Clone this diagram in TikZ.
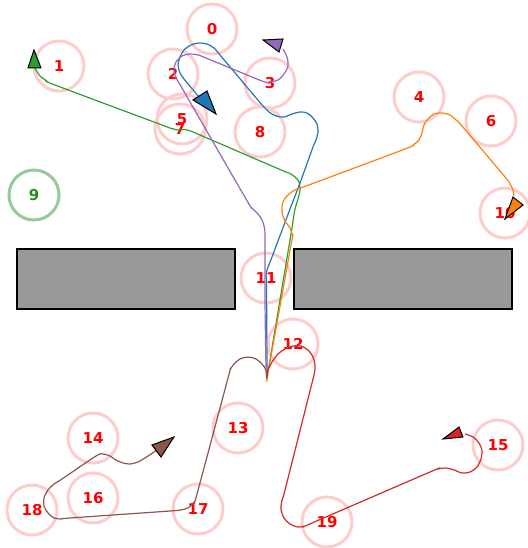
\documentclass[tikz,border=0pt]{standalone}
\usepackage{fontspec}
\setmainfont{DejaVu Sans}
\definecolor{ringpink}{RGB}{255,204,204}
\definecolor{ringgreen}{RGB}{150,202,150}
\definecolor{labgreen}{RGB}{34,139,34}
\definecolor{tabblue}{HTML}{1F77B4}
\definecolor{taborange}{HTML}{FF7F0E}
\definecolor{tabgreen}{HTML}{2CA02C}
\definecolor{tabred}{HTML}{D62728}
\definecolor{tabpurple}{HTML}{9467BD}
\definecolor{tabbrown}{HTML}{8C564B}
\definecolor{obst}{RGB}{153,153,153}
\tikzset{
  ring/.style={circle, draw=ringpink, line width=3pt, minimum size=50pt, inner sep=0pt,
    text=red, font=\fontsize{15}{15}\selectfont\bfseries},
  greenring/.style={ring, draw=ringgreen, text=labgreen},
  obstacle/.style={fill=obst, draw=black, line width=1.3pt},
  trail/.style={line width=1.2pt, line join=round},
  headtri/.style={draw=black, line width=1pt, line join=miter},
}
\begin{document}
\begin{tikzpicture}[x=1pt,y=-1pt]
\useasboundingbox (0,0) rectangle (527,548);
% goal circles
\node[ring] (c0) at (212,29) {0};
\node[ring] (c1) at (59,66) {1};
\node[ring] (c2) at (173,74) {2};
\node[ring] (c3) at (270,83) {3};
\node[ring] (c4) at (419,97) {4};
\node[ring] (c6) at (491,121) {6};
\node[ring] (c8) at (260,132) {8};
\node[ring] (c5) at (182,119) {5};
\node[ring] (c7) at (180,129) {7};
\node[greenring] (c9) at (34,195) {9};
\node[ring] (c10) at (505,213) {10};
\node[ring] (c11) at (266,278) {11};
\node[ring] (c12) at (293,344) {12};
\node[ring] (c13) at (238,428) {13};
\node[ring] (c14) at (93,438) {14};
\node[ring] (c15) at (498,445) {15};
\node[ring] (c16) at (93,498) {16};
\node[ring] (c17) at (198,509) {17};
\node[ring] (c18) at (32,510) {18};
\node[ring] (c19) at (327,522) {19};
% obstacles
\draw[obstacle] (17,249) rectangle (235,309);
\draw[obstacle] (294,249) rectangle (512,309);
% start
\coordinate (s) at (267,378);
% green
\draw[trail, tabgreen] plot[smooth, tension=0.5] coordinates {
 (267,378) (268.5,369) (290.5,237) (292,228) (293.5,218) (295,209) (298,199) (300,190)
 (299,182) (295,177) (289,173) (280,169.5) (200,135) (192,131.5) (185,129.5) (178,130)
 (170,128) (162,125) (55,85) (47,81) (40,76) (36,70) (35,68)};
% blue
\draw[trail, tabblue] plot[smooth, tension=0.5] coordinates {
 (267,378) (267,368) (266.5,285) (266,275) (268,267) (272,257) (290,209) (300,183)
 (313,147) (316,140) (318,132) (317,124) (313,118) (307,113) (300,112) (292,114)
 (284,117) (276,116) (269,112) (263,106) (257,99) (220,55) (214,48) (207,44) (199,43)
 (191,45) (184,50) (180,57) (178,65) (180,73) (184,79) (189,85) (199,97)};
% purple
\draw[trail, tabpurple] plot[smooth, tension=0.5] coordinates {
 (267,378) (266,368) (265,300) (265,240) (264.5,228) (262,220) (258,214) (252,208)
 (246,199) (186,95) (181,86) (176,78) (174,70) (176,62) (182,56) (190,54) (198,55)
 (206,58) (262,81) (270,82) (278,80) (284,74) (288,66) (287,57) (283,49)};
% orange
\draw[trail, taborange] plot[smooth, tension=0.5] coordinates {
 (267,378) (268.5,370) (291,245) (292.5,236) (290,228) (285,221) (282,212) (283,202)
 (289,194) (297,189) (306,186) (405,149) (413,145) (419,140) (422,133) (424,125)
 (428,119) (434,114) (442,113) (450,115) (456,120) (462,126) (505,177) (510,184)
 (513,190) (514,196)};
% brown
\draw[trail, tabbrown] plot[smooth, tension=0.5] coordinates {
 (267,378) (266,370) (262,364) (256,359) (248,357) (240,359) (234,364) (230,370)
 (228,378) (197,494) (194,502) (188,508) (180,510) (170,511) (70,518) (62,519) (54,518)
 (48,513) (44,506) (44,498) (48,490) (54,484) (62,479) (96,456) (103,454) (110,456)
 (116,460) (123,463) (130,464) (138,462) (145,458) (157,450)};
% red
\draw[trail, tabred] plot[smooth, tension=0.5] coordinates {
 (267,378) (268,370) (272,362) (278,354) (285,349) (293,346) (301,346) (308,350)
 (313,357) (315,365) (314.5,373) (312,383) (285,490) (282,500) (281,509) (284,518)
 (290,524) (298,527) (305,526) (312,523) (430,472) (438,469) (446,468) (454,470)
 (462,473) (470,472) (477,467) (481,459) (482,451) (479,443) (473,437) (465,434)};
% heading markers
\draw[headtri, fill=tabgreen] (34,50) -- (28,68) -- (41,68) -- cycle;
\draw[headtri, fill=tabblue] (216,114) -- (193,100) -- (207,91) -- cycle;
\draw[headtri, fill=tabpurple] (263,40) -- (283,39) -- (279,52) -- cycle;
\draw[headtri, fill=taborange] (505,219) -- (513,197) -- (523,205) -- cycle;
\draw[headtri, fill=tabbrown] (174,437) -- (152,445) -- (161,457) -- cycle;
\draw[headtri, fill=tabred] (443,439) -- (459,427) -- (463,437) -- cycle;
\end{tikzpicture}
\end{document}
